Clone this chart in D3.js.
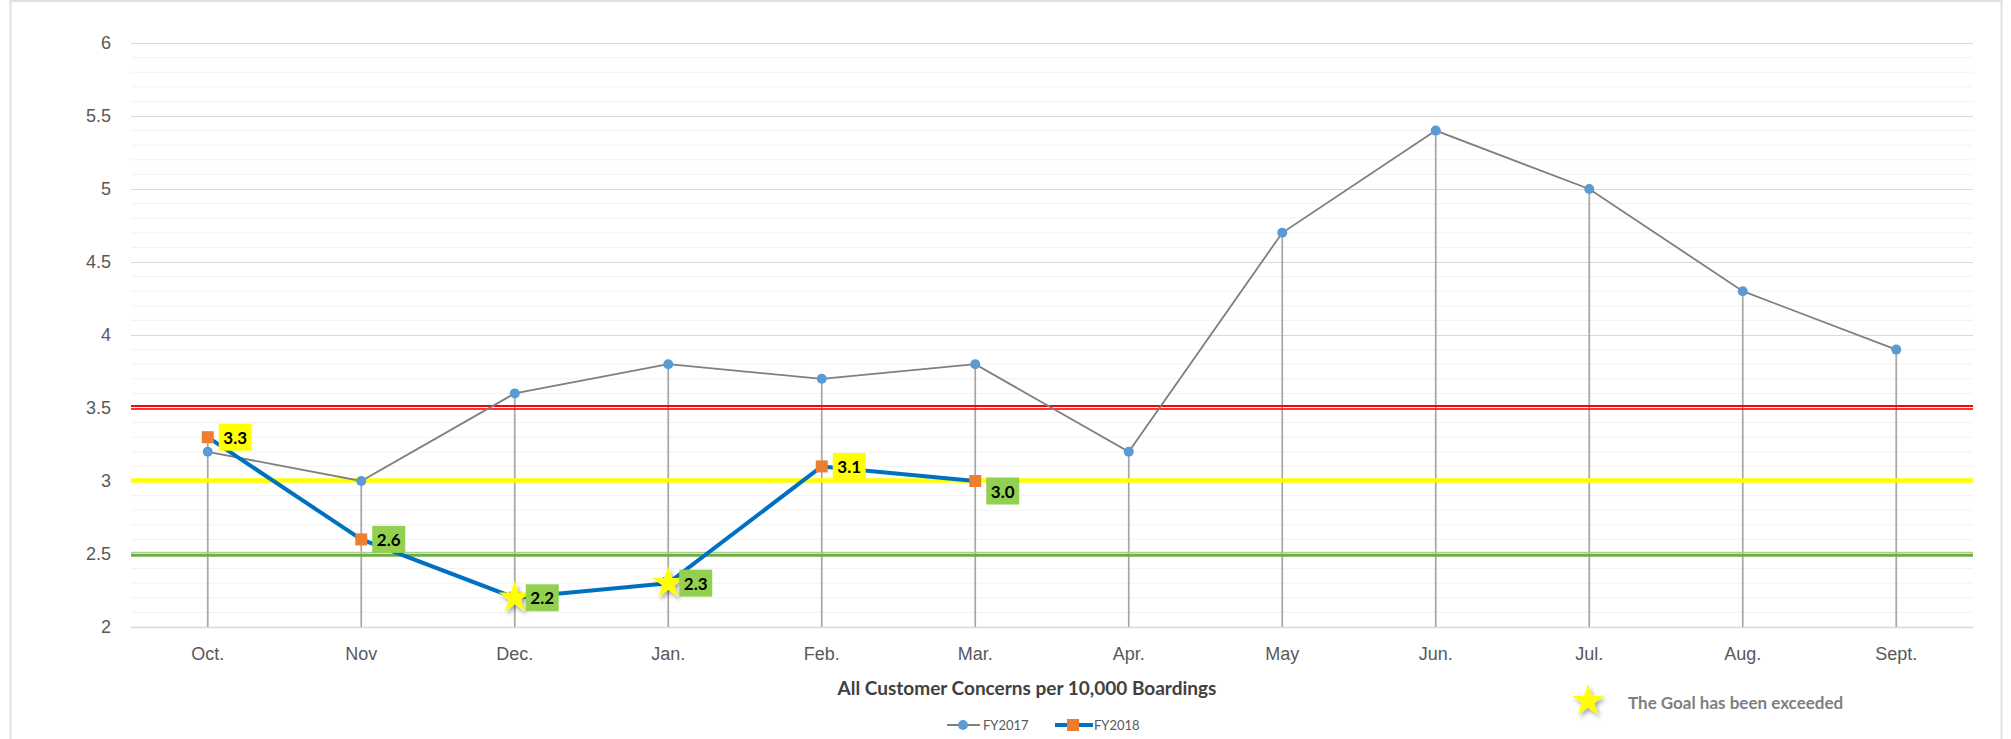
<!DOCTYPE html>
<html>
<head>
<meta charset="utf-8">
<script src="https://cdn.jsdelivr.net/npm/d3@7/dist/d3.min.js"></script>
<style>
  html, body { margin: 0; padding: 0; background: #fff; }
  svg { display: block; font-family: Lato, "Open Sans", sans-serif; }
</style>
</head>
<body>
<svg id="chart" width="2011" height="739"></svg>
<script>
// Monthly customer concerns per 10,000 boardings
const months = ["Oct.", "Nov", "Dec.", "Jan.", "Feb.", "Mar.", "Apr.", "May", "Jun.", "Jul.", "Aug.", "Sept."];
const fy2017 = [3.2, 3.0, 3.6, 3.8, 3.7, 3.8, 3.2, 4.7, 5.4, 5.0, 4.3, 3.9];
const fy2018 = [3.3, 2.6, 2.2, 2.3, 3.1, 3.0];
const yTicks = [2, 2.5, 3, 3.5, 4, 4.5, 5, 5.5, 6];
const seriesNames = ["FY2017", "FY2018"];

// Threshold bands: goal (green), target (yellow), limit (red)
const goalLevel = 2.5;
const targetLevel = 3.0;
const limitLevel = 3.5;

const chartTitle = "All Customer Concerns per 10,000 Boardings";
const goalNote = "The Goal has been exceeded";

const svg = d3.select("#chart");
const plot = { left: 131, right: 1973, top: 43, bottom: 627 };

// outer chart frame
svg.append("rect")
  .attr("x", 10.5).attr("y", 1).attr("width", 1991).attr("height", 800)
  .attr("fill", "#fff").attr("stroke", "#e0e0e0").attr("stroke-width", 2);

const x = d3.scaleBand().domain(months).range([plot.left, plot.right]).padding(0);
const cx = m => x(m) + x.bandwidth() / 2;
const y = d3.scaleLinear().domain([2, 6]).range([plot.bottom, plot.top]);

// minor gridlines every 0.1
const minor = d3.range(21, 60).map(v => v / 10).filter(v => Math.round(v * 10) % 5 !== 0);
svg.append("g").selectAll("line").data(minor).join("line")
  .attr("x1", plot.left).attr("x2", plot.right)
  .attr("y1", d => y(d)).attr("y2", d => y(d))
  .attr("stroke", "#f2f2f2").attr("stroke-width", 1);

// major gridlines + y labels via axis
const yAxis = d3.axisLeft(y).tickValues(yTicks).tickSize(-(plot.right - plot.left)).tickPadding(20)
  .tickFormat(d3.format("~g"));
const gy = svg.append("g").attr("transform", `translate(${plot.left},0)`).call(yAxis);
gy.select(".domain").remove();
gy.selectAll(".tick line").attr("stroke", "#d9d9d9").attr("stroke-width", 1.2);
gy.selectAll(".tick text").attr("fill", "#595959").style("font-size", "18px");

// x axis
const xAxis = d3.axisBottom(x).tickSize(0).tickPadding(20);
const gx = svg.append("g").attr("transform", `translate(0,${plot.bottom})`).call(xAxis);
gx.select(".domain").attr("stroke", "#d9d9d9").attr("stroke-width", 1.5);
gx.selectAll(".tick text").attr("fill", "#595959").style("font-size", "18px");

// drop lines from the highest point of each month to the axis
svg.append("g").selectAll("line").data(months).join("line")
  .attr("x1", d => cx(d)).attr("x2", d => cx(d))
  .attr("y1", (d, i) => y(Math.max(fy2017[i], fy2018[i] !== undefined ? fy2018[i] : -Infinity)))
  .attr("y2", plot.bottom)
  .attr("stroke", "#a6a6a6").attr("stroke-width", 1.7);

// threshold lines
function doubleLine(level, outer, inner, offsets) {
  const g = svg.append("g");
  offsets.forEach(o => {
    g.append("line")
      .attr("x1", plot.left).attr("x2", plot.right)
      .attr("y1", y(level) + o.dy).attr("y2", y(level) + o.dy)
      .attr("stroke", o.inner ? inner : outer).attr("stroke-width", o.w);
  });
}
doubleLine(limitLevel, "#ff0000", "#ff0000", [{ dy: -2, w: 2.2 }, { dy: 1, w: 1.4 }]);
doubleLine(targetLevel, "#ffff00", "#f0f040", [{ dy: -0.5, w: 4.4 }]);
doubleLine(goalLevel, "#70ad47", "#a9d18e", [{ dy: 1.2, w: 3 }, { dy: -1.5, w: 1.6, inner: true }]);

// FY2017 series
const line = d3.line().x((d, i) => cx(months[i])).y(d => y(d));
svg.append("path").datum(fy2017)
  .attr("d", line).attr("fill", "none")
  .attr("stroke", "#7f7f7f").attr("stroke-width", 1.8);
svg.append("g").selectAll("circle").data(fy2017).join("circle")
  .attr("cx", (d, i) => cx(months[i])).attr("cy", d => y(d)).attr("r", 5)
  .attr("fill", "#5b9bd5");

// FY2018 series
svg.append("path").datum(fy2018)
  .attr("d", line).attr("fill", "none")
  .attr("stroke", "#0070c0").attr("stroke-width", 4).attr("stroke-linejoin", "round");
svg.append("g").selectAll("rect").data(fy2018).join("rect")
  .attr("x", (d, i) => cx(months[i]) - 6).attr("y", d => y(d) - 6)
  .attr("width", 12).attr("height", 12)
  .attr("fill", "#ed7d31");

// stars for months beating the goal
const defs = svg.append("defs");
const shadow = defs.append("filter").attr("id", "starShadow")
  .attr("x", "-50%").attr("y", "-50%").attr("width", "200%").attr("height", "200%");
shadow.append("feDropShadow").attr("dx", 2).attr("dy", 3).attr("stdDeviation", 2)
  .attr("flood-color", "#000").attr("flood-opacity", 0.35);
const starPath = d3.symbol(d3.symbolStar, 17 * 17 / 0.8908130915292852)();
svg.append("g").selectAll("path")
  .data(fy2018.map((v, i) => ({ v, i })).filter(d => d.v <= goalLevel - 0.15))
  .join("path")
  .attr("d", starPath)
  .attr("transform", d => `translate(${cx(months[d.i])},${y(d.v)})`)
  .attr("fill", "#ffff00").attr("filter", "url(#starShadow)");

// data labels for FY2018
const labelShift = { 5: 10 };
const lg = svg.append("g").selectAll("g").data(fy2018).join("g")
  .attr("transform", (d, i) => `translate(${cx(months[i]) + 11},${y(d) + (labelShift[i] || 0)})`);
lg.append("rect")
  .attr("x", 0).attr("y", -13.5).attr("width", 33).attr("height", 27)
  .attr("fill", d => d > targetLevel ? "#ffff00" : "#92d050");
lg.append("text")
  .attr("x", 16.5).attr("y", 6.5)
  .attr("text-anchor", "middle")
  .style("font-size", "17px").style("font-weight", "700").attr("fill", "#000")
  .text(d => d.toFixed(1));

// axis title
svg.append("text")
  .attr("x", 1027).attr("y", 695).attr("text-anchor", "middle")
  .style("font-size", "19px").style("font-weight", "700").attr("fill", "#404040")
  .text(chartTitle);

// series legend
const legend = svg.append("g").attr("transform", "translate(0,725)");
legend.append("line").attr("x1", 947).attr("x2", 980).attr("stroke", "#7f7f7f").attr("stroke-width", 1.8);
legend.append("circle").attr("cx", 963).attr("r", 5).attr("fill", "#5b9bd5");
legend.append("text").attr("x", 983).attr("y", 4.5).style("font-size", "13px").attr("fill", "#595959").text(seriesNames[0]);
legend.append("line").attr("x1", 1055).attr("x2", 1093).attr("stroke", "#0070c0").attr("stroke-width", 4);
legend.append("rect").attr("x", 1067).attr("y", -6).attr("width", 12).attr("height", 12).attr("fill", "#ed7d31");
legend.append("text").attr("x", 1094).attr("y", 4.5).style("font-size", "13px").attr("fill", "#595959").text(seriesNames[1]);

// goal note
svg.append("path").attr("d", starPath)
  .attr("transform", "translate(1588,701)")
  .attr("fill", "#ffff00").attr("filter", "url(#starShadow)");
svg.append("text")
  .attr("x", 1628).attr("y", 709)
  .style("font-size", "17px").style("font-weight", "700").attr("fill", "#808080")
  .text(goalNote);
</script>
</body>
</html>
